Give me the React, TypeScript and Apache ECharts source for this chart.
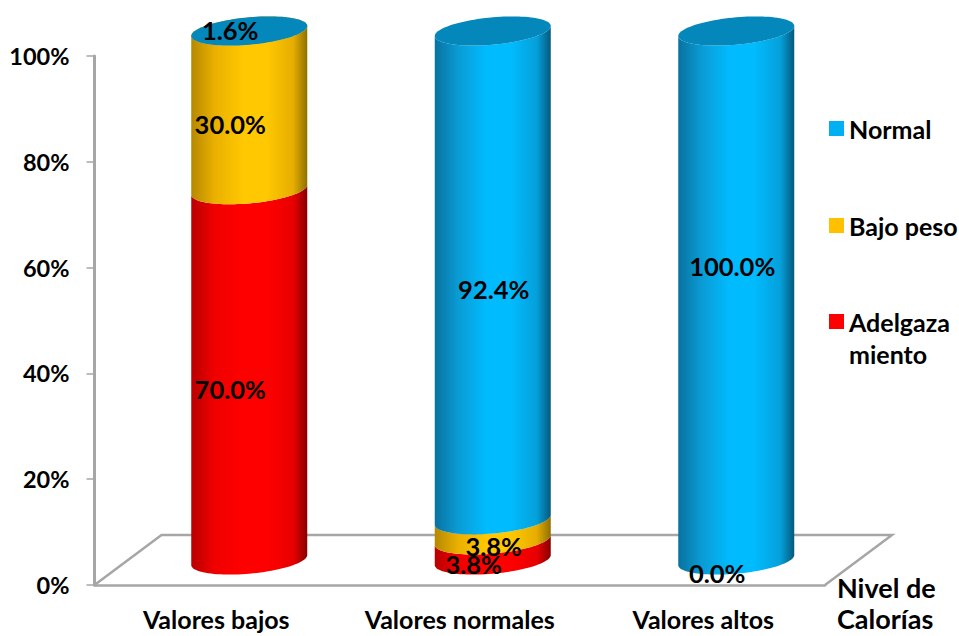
import React, { useEffect, useRef } from "react";
import * as echarts from "echarts";

const categories = ["Valores bajos", "Valores normales", "Valores altos"];
const adelgazamiento = [70, 3.8, 0];
const bajoPeso = [30, 3.8, null];
const normal = [1.6, 92.4, 100];
const yTicks = [0, 20, 40, 60, 80, 100];

const FONT = "Lato";
const FLOOR_DX = 67;
const FLOOR_DY = 50;
const CYLINDER_DX = 33;
const RADIUS_X = 58;
const RADIUS_Y = 13.7;
const TILT = 5;
const GRAY = "#a6a6a6";
const SHADE_OFFSETS = [0, 0.2, 0.45, 0.65, 0.88, 1];

// Label shifts from the middle of each cylinder segment, in pixels.
const labelShift = {
  adelgaza: [[-19, 14], [-19, 14], [-19, 13]],
  bajo: [[-19, 14], [1, 16], [0, 0]],
  normal: [[-19, 3], [1, 14], [-4, -30]],
};

const shades = {
  adelgaza: { color: "#ff0000", stops: ["#b80000", "#f00000", "#ff0000", "#ff0000", "#e80000", "#880000"], cap: "#d00000" },
  bajo: { color: "#ffc000", stops: ["#b58800", "#eab000", "#ffc800", "#ffc800", "#e6ad00", "#8f7000"], cap: "#d0a000" },
  normal: { color: "#00b0f0", stops: ["#0872a0", "#0a9bd4", "#00bcff", "#00bcff", "#05a0da", "#06587c"], cap: "#0487ba" },
};

// One point on the sheared ellipse that forms a cylinder's rim.
function rim(cx: number, cy: number, theta: number): number[] {
  return [
    cx + RADIUS_X * Math.cos(theta),
    cy - TILT * Math.cos(theta) + RADIUS_Y * Math.sin(theta),
  ];
}

function frontArc(cx: number, cy: number, reverse: boolean): number[][] {
  const pts: number[][] = [];
  for (let i = 0; i <= 48; i++) {
    const t = Math.PI * (1 - i / 48);
    pts.push(rim(cx, cy, t));
  }
  return reverse ? pts.reverse() : pts;
}

function fullRim(cx: number, cy: number): number[][] {
  const pts: number[][] = [];
  for (let i = 0; i < 96; i++) pts.push(rim(cx, cy, (Math.PI * 2 * i) / 96));
  return pts;
}

function segmentSeries(
  name: string,
  key: "adelgaza" | "bajo" | "normal",
  values: (number | null)[],
  bases: number[],
) {
  const shade = shades[key];
  const fill = new echarts.graphic.LinearGradient(
    0, 0, 1, 0,
    shade.stops.map((color, i) => ({ offset: SHADE_OFFSETS[i], color })),
  );
  return {
    type: "custom",
    name,
    z: 3,
    silent: true,
    itemStyle: { color: shade.color },
    encode: { x: 0, y: 1 },
    data: values.map((v, i) => [i, v === null ? 0 : v, bases[i], v === null ? 0 : 1]),
    renderItem: (_p: unknown, api: any) => {
      const cat = api.value(0);
      const value = api.value(1);
      const base = api.value(2);
      const shown = api.value(3);
      const end = Math.min(base + value, 100);
      const start = Math.min(base, 100);
      const [bx, by] = api.coord([cat, start]);
      const [, ty] = api.coord([cat, end]);
      const cx = bx + CYLINDER_DX;
      const yBottom = by - FLOOR_DY / 2;
      const yTop = ty - FLOOR_DY / 2;
      const children: any[] = [];
      if (yBottom - yTop > 0.01) {
        children.push({
          type: "polygon",
          shape: { points: [...frontArc(cx, yBottom, false), ...frontArc(cx, yTop, true)] },
          style: { fill },
        });
      }
      if (base + value >= 99.99 && shown) {
        children.push({
          type: "polygon",
          shape: { points: fullRim(cx, yTop) },
          style: { fill: shade.cap },
        });
      }
      if (shown) {
        const [dx, dy] = labelShift[key][cat];
        const midValue = Math.min(base + value / 2, 100.8);
        const [, my] = api.coord([cat, midValue]);
        children.push({
          type: "text",
          z2: 50,
          x: cx + dx,
          y: my - FLOOR_DY / 2 + dy,
          style: {
            text: value.toFixed(1) + "%",
            fill: "#000",
            font: `bold 25.5px ${FONT}`,
            textAlign: "center",
            textVerticalAlign: "middle",
            align: "center",
            verticalAlign: "middle",
          },
        });
      }
      return { type: "group", children };
    },
  };
}

export default function App() {
  const ref = useRef<HTMLDivElement>(null);

  useEffect(() => {
    document.body.style.margin = "0";
    const chart = echarts.init(ref.current!, undefined, { renderer: "svg" });
    const basesBajo = adelgazamiento.map((v) => v);
    const basesNormal = adelgazamiento.map((v, i) => v + (bajoPeso[i] ?? 0));

    chart.setOption({
      animation: false,
      backgroundColor: "#fff",
      textStyle: { fontFamily: FONT },
      grid: { left: 94.5, top: 56, width: 730.5, height: 529, containLabel: false, outerBoundsMode: "none" },
      legend: [
        {
          orient: "vertical",
          left: 829,
          top: 113.5,
          padding: 0,
          icon: "rect",
          itemWidth: 15,
          itemHeight: 15,
          itemGap: 67,
          selectedMode: false,
          data: ["Normal", "Bajo peso"],
          textStyle: { fontFamily: FONT, fontWeight: "bold", fontSize: 25, color: "#000", lineHeight: 30 },
        },
        {
          orient: "vertical",
          left: 829,
          top: 273.5,
          padding: 0,
          icon: "rect",
          itemWidth: 15,
          itemHeight: 15,
          selectedMode: false,
          data: ["Adelgaza\nmiento"],
          // The blank first line keeps the icon level with the first word.
          formatter: (name: string) => `\n${name}`,
          textStyle: {
            fontFamily: FONT,
            fontWeight: "bold",
            fontSize: 25,
            color: "#000",
            lineHeight: 32,
          },
        },
      ],
      xAxis: {
        type: "category",
        data: categories,
        axisLine: { lineStyle: { color: GRAY, width: 2.5 } },
        axisTick: { alignWithLabel: false, length: 8, lineStyle: { color: GRAY, width: 1.5 } },
        axisLabel: { color: "#000", fontFamily: FONT, fontWeight: "bold", fontSize: 25, margin: 21, interval: 0, hideOverlap: false },
        name: "Nivel de\nCalorías",
        nameLocation: "end",
        nameGap: 12,
        nameTextStyle: {
          color: "#000",
          fontFamily: FONT,
          fontWeight: "bold",
          fontSize: 27,
          lineHeight: 31,
          align: "left",
          verticalAlign: "top",
          padding: [-13.5, 0, 0, 0],
        },
      },
      yAxis: {
        type: "value",
        min: 0,
        max: 100,
        interval: 20,
        axisLine: { show: true, lineStyle: { color: GRAY, width: 3 } },
        axisTick: { show: true, length: 8, lineStyle: { color: GRAY, width: 1.5 } },
        splitLine: { show: false },
        axisLabel: {
          color: "#000",
          fontFamily: FONT,
          fontWeight: "bold",
          fontSize: 23.5,
          margin: 25,
          customValues: yTicks,
          formatter: (v: number) => `${v}%`,
        },
      },
      series: [
        {
          // Floor of the 3D plot area, drawn behind the cylinders.
          type: "custom",
          z: 1,
          silent: true,
          data: [[0, 0]],
          encode: { x: 0, y: 1 },
          renderItem: (_p: unknown, api: any) => {
            const band = api.size([1, 0])[0];
            const [c0, y0] = api.coord([0, 0]);
            const [c2] = api.coord([categories.length - 1, 0]);
            const left = c0 - band / 2;
            const right = c2 + band / 2;
            return {
              type: "polyline",
              shape: {
                points: [
                  [left, y0],
                  [left + FLOOR_DX, y0 - FLOOR_DY],
                  [right + FLOOR_DX, y0 - FLOOR_DY],
                  [right, y0],
                ],
              },
              style: { stroke: GRAY, lineWidth: 2.5, fill: "none" },
            };
          },
        },
        segmentSeries("Adelgaza\nmiento", "adelgaza", adelgazamiento, [0, 0, 0]),
        segmentSeries("Bajo peso", "bajo", bajoPeso, basesBajo),
        segmentSeries("Normal", "normal", normal, basesNormal),
      ],
    });
    return () => chart.dispose();
  }, []);

  return <div ref={ref} style={{ width: 959, height: 636 }} />;
}
